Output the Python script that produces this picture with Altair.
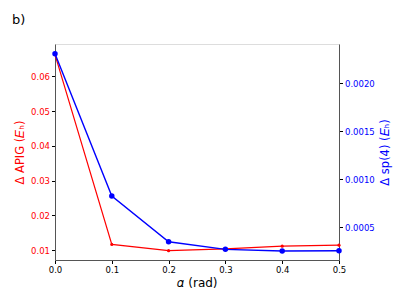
import altair as alt
import pandas as pd

alpha = [0.0, 0.1, 0.2, 0.3, 0.4, 0.5]
apig = [0.0663, 0.0116, 0.0098, 0.0103, 0.0111, 0.0114]
sp4 = [0.002305, 0.000826, 0.00035, 0.000271, 0.000253, 0.000256]
panel = ["b)"]

df = pd.DataFrame({"alpha": alpha, "apig": apig, "sp4": sp4})

FONT = "DejaVu Sans"
LBL = 8.5
TTL = 11.5
xenc = alt.X("alpha:Q", scale=alt.Scale(domain=[0, 0.5], nice=False, zero=False),
             axis=alt.Axis(values=[0, 0.1, 0.2, 0.3, 0.4, 0.5], format=".1f", grid=False,
                           title="𝛼 (rad)", titleFontSize=12, titleFontWeight="normal",
                           labelFontSize=LBL, tickSize=3.5, tickColor="black",
                           domainColor="#555", labelColor="black", titleColor="black",
                           titlePadding=3, labelPadding=2, labelFlush=False))

red_line = alt.Chart(df).mark_line(color="red", strokeWidth=1.2, point=alt.OverlayMarkDef(color="red", size=10, filled=True)).encode(
    x=xenc,
    y=alt.Y("apig:Q", scale=alt.Scale(domain=[0.00712, 0.06934], nice=False, zero=False),
            axis=alt.Axis(values=[0.01, 0.02, 0.03, 0.04, 0.05, 0.06], format=".2f", grid=False,
                          title="Δ APIG (𝐸ₕ)", titleColor="red", labelColor="red",
                          titleFontSize=TTL, titleFontWeight="normal", labelFontSize=LBL,
                          tickSize=3.5, tickColor="black", domainColor="#555",
                          titlePadding=5, labelPadding=2, labelFlush=False)),
)

blue_line = alt.Chart(df).mark_line(color="blue", strokeWidth=1.4, point=alt.OverlayMarkDef(color="blue", size=30, filled=True)).encode(
    x=xenc,
    y=alt.Y("sp4:Q", scale=alt.Scale(domain=[0.00016, 0.002406], nice=False, zero=False),
            axis=alt.Axis(orient="right", values=[0.0005, 0.001, 0.0015, 0.002], format=".4f", grid=False,
                          title="Δ sp(4) (𝐸ₕ)", titleColor="blue", labelColor="blue",
                          titleFontSize=TTL, titleFontWeight="normal", labelFontSize=LBL,
                          tickSize=3.5, tickColor="black", domainColor="#555",
                          titlePadding=5, labelPadding=2, labelFlush=False,
                          titleAngle=270, titleBaseline="top")),
)

label = alt.Chart(pd.DataFrame({"t": panel})).mark_text(fontSize=13, font=FONT, fontWeight="normal", align="left", baseline="middle", color="black").encode(
    x=alt.value(-43), y=alt.value(-24), text="t:N"
)

chart = alt.layer(red_line, blue_line, label).resolve_scale(y="independent").properties(
    width=284, height=216,
    autosize=alt.AutoSizeParams(type="none"),
    padding={"left": 47, "top": 36, "right": 56, "bottom": 40},
).configure_view(stroke="black", strokeWidth=1).configure(font=FONT)

chart.save("out.html", embed_options={"renderer": "svg", "actions": False})
